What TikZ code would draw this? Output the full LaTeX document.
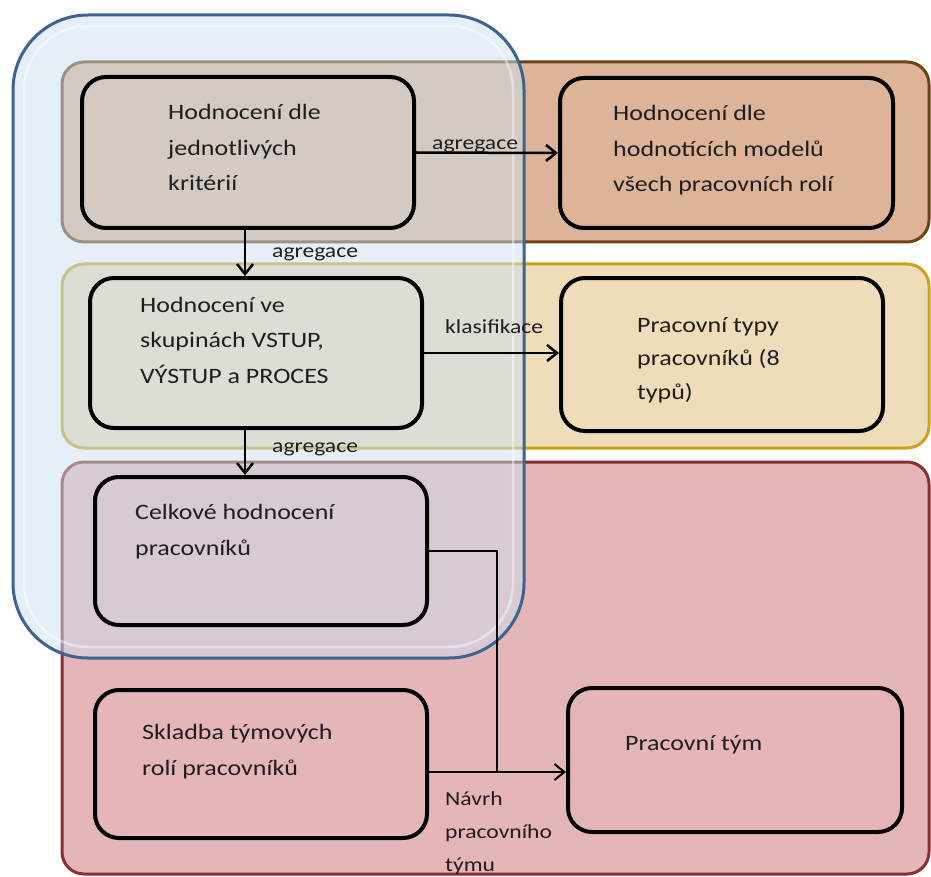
\documentclass[tikz,border=0pt]{standalone}
\usepackage{fontspec}
\setmainfont{Carlito}[FakeStretch=1.18]
\usetikzlibrary{arrows.meta}
\definecolor{brownF}{HTML}{DDB497}
\definecolor{brownB}{HTML}{6E4318}
\definecolor{yellowF}{HTML}{EEDDB8}
\definecolor{yellowB}{HTML}{C9A31A}
\definecolor{redF}{HTML}{E6B5B8}
\definecolor{redB}{HTML}{8B2E32}
\definecolor{blueF}{HTML}{CCE0F2}
\definecolor{blueB}{HTML}{3D6391}
\definecolor{ink}{HTML}{1E1E1E}
\begin{document}
\begin{tikzpicture}[x=1pt,y=-1pt,
  band/.style={line width=3pt, rounded corners=22pt},
  box/.style={draw=black, line width=4pt, rounded corners=24pt, inner sep=0pt},
  bsize/.style 2 args={minimum width=#1, minimum height=#2},
  txt/.style={inner sep=0pt, anchor=base west, align=left, text=ink, font=\fontsize{22pt}{35.5pt}\selectfont},
  lbl/.style={inner sep=0pt, anchor=base west, align=left, text=ink, font=\fontsize{20pt}{33pt}\selectfont},
  arr/.style={draw=black, line width=2.5pt, -{Straight Barb[length=10pt,width=16pt]}},
  conn/.style={draw=black, line width=2pt}]
\useasboundingbox (0,0) rectangle (931,877);
\fill[white] (0,0) rectangle (931,877);
% bands
\draw[band, draw=brownB, fill=brownF] (62,62) rectangle (929,242);
\draw[band, draw=yellowB, fill=yellowF] (62,264) rectangle (929,448);
\draw[band, draw=redB, fill=redF] (62,462) rectangle (929,874);
% blue overlay
\draw[line width=3pt, draw=blueB, fill=blueF, fill opacity=0.5, rounded corners=75pt] (13,15) rectangle (524,658);
\draw[line width=2.5pt, draw=white, draw opacity=0.45, rounded corners=64pt] (24,26) rectangle (513,647);
% boxes
\node[box, bsize={332pt}{151pt}] (b1) at (248,152.5) {};
\node[box, bsize={333pt}{150pt}] (b2) at (726.5,153) {};
\node[box, bsize={332pt}{150pt}] (b3) at (256,353) {};
\node[box, bsize={322pt}{153pt}] (b4) at (722,354.5) {};
\node[box, bsize={332pt}{148pt}] (b5) at (261,551) {};
\node[box, bsize={332pt}{148pt}] (b6) at (261,764) {};
\node[box, bsize={334pt}{144pt}] (b7) at (735,760) {};
% texts (anchor = baseline of last line)
\node[txt] (t1) at (168,191) {Hodnocení dle\\jednotlivých\\kritérií};
\node[txt] (t2) at (613,192) {Hodnocení dle\\hodnotících modelů\\všech pracovních rolí};
\node[txt] (t3) at (140,383) {Hodnocení ve\\skupinách VSTUP,\\VÝSTUP a PROCES};
\node[txt, font=\fontsize{22pt}{33.5pt}\selectfont] (t4) at (637,399) {Pracovní typy\\pracovníků (8\\typů)};
\node[txt] (t5) at (135,555) {Celkové hodnocení\\pracovníků};
\node[txt] (t6) at (142,775) {Skladba týmových\\rolí pracovníků};
\node[txt] (t7) at (625,750) {Pracovní tým};
% connectors
\coordinate (vx) at (245,0);
\coordinate (j) at (497,772);
\draw[arr] (b1.east) -- (b2.west);
\draw[arr] (b1.south -| vx) -- (b3.north -| vx);
\draw[arr] (b3.east) -- (b3.east -| b4.west);
\draw[arr] (b3.south -| vx) -- (b5.north -| vx);
\draw[conn] (b5.east) -| (j);
\draw[arr, line width=2pt] (b6.east |- j) -- (b7.west |- j);
% labels
\node[lbl] (l1) at (432,150) {agregace};
\node[lbl] (l2) at (272,258) {agregace};
\node[lbl] (l3) at (445,333) {klasifikace};
\node[lbl] (l4) at (272,452) {agregace};
\node[lbl] (l5) at (445,871) {Návrh\\pracovního\\týmu};
\end{tikzpicture}
\end{document}
